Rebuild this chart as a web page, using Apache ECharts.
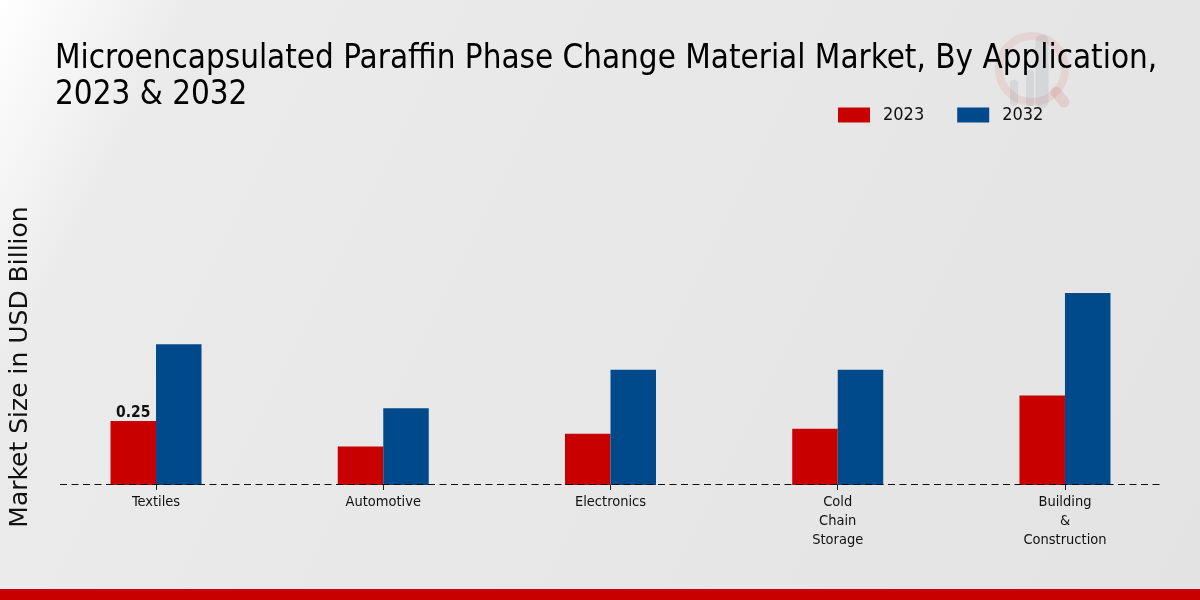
<!DOCTYPE html>
<html>
<head>
<meta charset="utf-8">
<style>
  html, body { margin: 0; padding: 0; }
  #main { width: 1200px; height: 600px; }
</style>
<script src="https://cdn.jsdelivr.net/npm/echarts@6/dist/echarts.min.js"></script>
</head>
<body>
<div id="main"></div>
<script>
var categories = ['Textiles', 'Automotive', 'Electronics', 'Cold\nChain\nStorage', 'Building\n&\nConstruction'];
var values2023 = [0.25, 0.15, 0.20, 0.22, 0.35];
var values2032 = [0.55, 0.30, 0.45, 0.45, 0.75];
var titleText = 'Microencapsulated Paraffin Phase Change Material Market, By Application,\n2023 & 2032';

var condensed = '"DejaVu Sans Condensed", "DejaVu Sans", sans-serif';
var myChart = echarts.init(document.getElementById('main'));

myChart.setOption({
  animation: false,
  backgroundColor: new echarts.graphic.LinearGradient(0, 0, 1, 1, [
    { offset: 0, color: '#ffffff' },
    { offset: 0.13, color: '#ebebeb' },
    { offset: 1, color: '#e3e3e3' }
  ]),
  title: {
    text: titleText,
    left: 50,
    top: 36,
    textStyle: { fontFamily: condensed, fontSize: 32.9, fontWeight: 'normal', color: '#000', lineHeight: 36 }
  },
  legend: {
    left: 833,
    top: 101,
    itemWidth: 32,
    itemHeight: 15,
    itemGap: 33,
    icon: 'rect',
    itemStyle: { borderWidth: 0 },
    textStyle: { fontFamily: condensed, fontSize: 18, color: '#111', padding: [0, 0, 0, 8] },
    data: ['2023', '2032']
  },
  grid: { left: 42.4, right: 21.4, top: 249, bottom: 115, outerBoundsMode: 'none' },
  xAxis: {
    type: 'category',
    data: categories,
    axisLine: { show: false },
    axisTick: { show: true, alignWithLabel: true, length: 5, lineStyle: { color: '#222' } },
    axisLabel: { fontFamily: condensed, fontSize: 14.5, color: '#111', lineHeight: 19, margin: 8 }
  },
  yAxis: {
    type: 'value',
    min: 0,
    max: 0.921875,
    splitLine: { show: false },
    axisLine: { show: false },
    axisTick: { show: false },
    axisLabel: { show: false },
    name: 'Market Size in USD Billion',
    nameLocation: 'middle',
    nameGap: 9,
    nameTextStyle: { fontFamily: '"DejaVu Sans", sans-serif', fontSize: 25, color: '#111' }
  },
  series: [
    {
      name: '2023',
      type: 'bar',
      barWidth: 45.5,
      barGap: 0,
      itemStyle: { color: '#c80000' },
      data: values2023.map(function (v, i) {
        return i === 0 ? {
          value: v,
          label: { show: true, position: 'top', distance: 0, fontFamily: condensed, fontSize: 15.5, fontWeight: 'bold', color: '#111' }
        } : v;
      })
    },
    {
      name: '2032',
      type: 'bar',
      barWidth: 45.5,
      itemStyle: { color: '#004a8c' },
      data: values2032
    }
  ],
  graphic: [
    // watermark behind the title
    { type: 'circle', z: -1, shape: { cx: 1032, cy: 69, r: 33 }, style: { fill: 'none', stroke: 'rgba(200,0,0,0.08)', lineWidth: 8 } },
    { type: 'line', z: -1, shape: { x1: 1056, y1: 92, x2: 1064, y2: 102 }, style: { stroke: 'rgba(200,0,0,0.1)', lineWidth: 11, lineCap: 'round' } },
    { type: 'line', z: -1, shape: { x1: 1014, y1: 84, x2: 1014, y2: 102 }, style: { stroke: 'rgba(120,130,140,0.15)', lineWidth: 8, lineCap: 'round' } },
    { type: 'line', z: -1, shape: { x1: 1030, y1: 74, x2: 1030, y2: 102 }, style: { stroke: 'rgba(120,130,140,0.15)', lineWidth: 8, lineCap: 'round' } },
    { type: 'line', z: -1, shape: { x1: 1042, y1: 41, x2: 1042, y2: 102 }, style: { stroke: 'rgba(120,130,140,0.15)', lineWidth: 13, lineCap: 'round' } },
    // dashed baseline, shorter than the category band range
    { type: 'line', z: 10, shape: { x1: 60, y1: 484.5, x2: 1160, y2: 484.5 }, style: { stroke: '#111', lineWidth: 1, lineDash: [7, 4.5] } },
    // footer band
    { type: 'rect', z: 10, shape: { x: 0, y: 589, width: 1200, height: 11 }, style: { fill: '#c80000' } }
  ]
});
</script>
</body>
</html>
